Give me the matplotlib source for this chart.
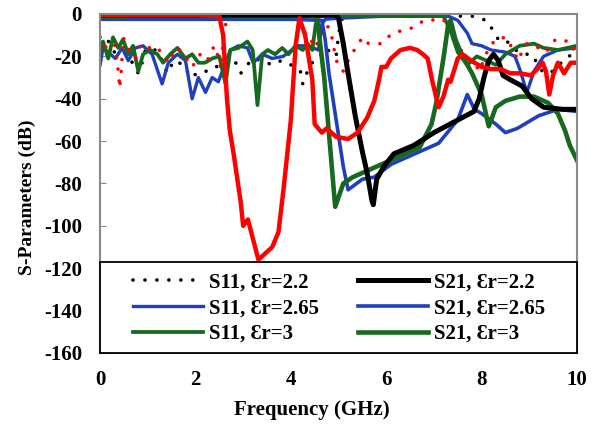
import numpy as np
import matplotlib.pyplot as plt
from matplotlib.patches import Rectangle

plt.rcParams['font.family'] = ['Liberation Serif', 'DejaVu Serif']
plt.rcParams['font.weight'] = 'bold'
plt.rcParams['axes.unicode_minus'] = False

# S11, er=2.2 (black dotted)
s11_22_f = [0.0, 0.15, 0.3, 0.45, 0.6, 0.8, 0.88, 0.95, 1.1, 1.25, 1.4, 1.55, 1.75, 1.9, 2.1, 2.3, 2.5,
            2.8, 2.95, 3.05, 3.2, 3.4, 3.6, 3.8, 4.0, 4.2, 4.25, 4.4, 4.6, 4.75, 4.85, 4.95, 5.0, 5.05,
            5.15, 6.0, 7.0, 7.6, 7.8, 8.1, 8.25, 8.35, 8.5, 8.65, 8.85, 9.05, 9.3, 9.5, 9.8, 10.0]
s11_22_db = [-15, -12, -18, -17, -20, -28, -23, -17, -16, -19, -28, -22, -24, -30, -27, -27, -24,
             -21, -28, -25, -21, -22, -24, -22, -24, -27, -33, -24, -20, -16, -19, -20, -10, -3,
             -1, -1, -1, -1, -1, -3, -8, -12, -12, -16, -19, -19, -28, -27, -20, -19]

# S21, er=2.2 (black solid)
s21_22_f = [0.0, 1.0, 2.0, 3.0, 4.0, 4.95, 5.0, 5.1, 5.2, 5.35, 5.5, 5.6, 5.7, 5.73, 5.8, 5.95, 6.16,
            6.58, 7.0, 7.42, 7.84, 7.95, 8.05, 8.15, 8.25, 8.35, 8.45, 8.6, 8.85, 9.05, 9.3, 9.7, 10.0]
s21_22_db = [-0.5, -0.5, -0.5, -0.5, -0.5, -0.5, -2, -14, -28, -48, -65, -75, -88, -90, -78, -72, -66,
             -62, -56, -51, -46, -40, -30, -22, -19, -22, -29, -31, -34, -40, -44, -45, -45]

# S11, er=2.65 (blue)
s11_265_f = [0.0, 0.06, 0.32, 0.46, 0.59, 0.74, 0.9, 1.09, 1.3, 1.43, 1.62, 1.79, 1.93, 2.06, 2.21,
             2.35, 2.48, 2.73, 2.9, 3.09, 3.21, 3.4, 3.61, 3.84, 4.14, 4.35, 4.58, 4.65, 4.72, 5.0,
             6.0, 7.3, 7.5, 7.7, 7.8, 8.0, 8.2, 8.5, 8.7, 8.8, 8.95, 9.1, 9.3, 9.6, 10.0]
s11_265_db = [-24, -16, -21, -16, -22, -16, -15, -19, -33, -23, -19, -22, -40, -30, -37,
              -30, -32, -17, -15, -16, -23, -19, -21, -20, -15, -15, -17, -5, -2.5, -2,
              -1, -1, -3, -9, -14, -15, -17, -18, -20, -26, -37, -27, -20, -17, -16]

# S21, er=2.65 (blue)
s21_265_f = [0.0, 1.0, 2.0, 3.0, 4.0, 4.65, 4.72, 4.8, 4.95, 5.1, 5.2, 5.5, 5.75, 6.1, 6.6, 7.1,
             7.5, 7.7, 7.85, 8.0, 8.3, 8.5, 8.75, 9.2, 9.6, 10.0]
s21_265_db = [-2.5, -2.5, -2.5, -2.5, -2.5, -3, -12, -28, -50, -72, -83, -78, -77, -71, -66, -61,
              -50, -38, -45, -47, -52, -56, -54, -48, -45, -46]

# S11, er=3 (green)
s11_3_f = [0.0, 0.06, 0.17, 0.27, 0.38, 0.48, 0.59, 0.69, 0.8, 0.9, 1.05, 1.2, 1.32, 1.47, 1.62,
           1.79, 1.93, 2.06, 2.2, 2.35, 2.5, 2.57, 2.63, 2.73, 2.9, 3.09, 3.2, 3.3, 3.4, 3.52,
           3.67, 3.82, 3.95, 4.1, 4.25, 4.35, 4.45, 4.52, 4.58, 5.5, 6.5, 7.2, 7.35, 7.5, 7.7,
           7.9, 8.1, 8.3, 8.5, 8.8, 9.1, 9.3, 9.6, 10.0]
s11_3_db = [-18, -13, -21, -11, -16, -12, -19, -15, -27, -19, -17, -19, -23, -19, -16,
            -21, -19, -23, -23, -21, -20, -27, -33, -17, -16, -13, -17, -43, -19, -17,
            -19, -16, -19, -15, -17, -14, -17, -5, -1, -1, -1, -1, -8, -18, -24,
            -20, -22, -24, -19, -15, -14, -16, -17, -15]

# S21, er=3 (green)
s21_3_f = [0.0, 0.3, 0.6, 1.5, 2.5, 3.5, 4.5, 4.55, 4.7, 4.93, 5.1, 5.3, 5.6, 6.1, 6.7, 6.95, 7.05,
           7.15, 7.22, 7.3, 7.35, 7.45, 7.6, 7.8, 8.0, 8.15, 8.3, 8.5, 8.8, 9.1, 9.4, 9.6, 9.75,
           9.85, 10.0]
s21_3_db = [-1, -2, -1, -1, -1, -1, -1, -2, -30, -91, -80, -77, -74, -69, -63, -52, -42,
            -28, -18, -5, -3, -12, -20, -28, -38, -53, -44, -41, -39, -39, -42, -47, -55,
            -62, -69]

# unlabelled red curves
red_s11_f = [0.0, 0.06, 0.17, 0.25, 0.3, 0.36, 0.39, 0.41, 0.45, 0.48, 0.63, 0.74, 0.85, 0.95, 1.1,
             1.3, 1.43, 1.62, 1.75, 1.93, 2.1, 2.25, 2.32, 2.4, 2.5, 2.53, 2.6, 2.7, 3.5, 4.1, 4.2,
             4.3, 4.4, 4.5, 4.6, 4.75, 4.83, 4.87, 4.9, 4.98, 5.1, 5.15, 5.2, 5.3, 5.4, 5.5, 5.63,
             5.78, 5.88, 6.03, 6.15, 6.3, 6.5, 6.8, 6.95, 7.1, 7.3, 7.4, 7.45, 7.5, 7.7, 7.85,
             7.95, 8.15, 8.3, 8.5, 8.7, 8.75, 8.95, 9.2, 9.35, 9.55, 9.85, 10.0]
red_s11_db = [-11, -15, -16, -15, -14, -23, -29, -35, -25, -11, -18, -21, -15, -17, -15,
              -18, -23, -16, -19, -25, -19, -22, -18, -15, -22, -26, -7, -1, -1, -1, -2,
              -9, -11, -16, -12, -5, -8, -12, -16, -24, -27, -26, -22, -18, -15, -11, -14,
              -14, -14, -11, -9, -8, -7, -3, -3, -2, -4, -8, -11, -15, -21, -23,
              -27, -16, -12, -11, -18, -22, -14, -16, -18, -12, -13, -20]

red_s21_f = [0.0, 1.0, 2.0, 2.5, 2.58, 2.66, 2.72, 2.8, 2.95, 3.0, 3.1, 3.32, 3.61, 3.74, 3.85, 4.0,
             4.1, 4.18, 4.3, 4.45, 4.5, 4.65, 4.75, 4.95, 5.2, 5.4, 5.6, 5.75, 5.85, 5.9, 6.0, 6.1,
             6.3, 6.5, 6.65, 6.77, 6.87, 6.97, 7.1, 7.2, 7.3, 7.35, 7.5, 7.6, 7.78, 8.0, 8.2, 8.4,
             8.6, 8.82, 9.03, 9.17, 9.28, 9.35, 9.42, 9.5, 9.6, 9.73, 9.87, 9.95]
red_s21_db = [-0.5, -0.5, -0.5, -1, -10, -40, -55, -66, -89, -100, -97, -116, -110, -103, -82, -50,
              -15, -2, -10, -31, -52, -56, -54, -58, -59, -56, -49, -41, -31, -25, -25, -21,
              -17, -16, -17, -19, -21, -32, -44, -39, -31, -32, -21, -19, -22, -25, -26, -26,
              -28, -28, -29, -26, -23, -27, -38, -29, -23, -28, -23, -23]

blue = '#1f3fbf'
green = '#17691f'

fig = plt.figure(figsize=(5.96, 4.24), dpi=100)
ax = fig.add_axes([0.168, 0.1675, 0.8, 0.7995])

dots = dict(linestyle=(0, (0.01, 3.3)), dash_capstyle='round', linewidth=2.6)
h1, = ax.plot(s11_22_f, s11_22_db, color='black', label='S11, Ɛr=2.2', **dots)
h3, = ax.plot(s11_265_f, s11_265_db, color=blue, lw=2.4, label='S11, Ɛr=2.65')
h5, = ax.plot(s11_3_f, s11_3_db, color=green, lw=2.7, label='S11, Ɛr=3')
ax.plot(red_s11_f, red_s11_db, color='red', **dots)
h4, = ax.plot(s21_265_f, s21_265_db, color=blue, lw=2.6, label='S21, Ɛr=2.65')
h6, = ax.plot(s21_3_f, s21_3_db, color=green, lw=3.3, label='S21, Ɛr=3')
h2, = ax.plot(s21_22_f, s21_22_db, color='black', lw=3.6, label='S21, Ɛr=2.2')
ax.plot(red_s21_f, red_s21_db, color='red', lw=3.2)

ax.set_xlim(0, 10)
ax.set_ylim(-160, 0)
ax.set_xticks(np.arange(0, 11, 2))
ax.set_yticks(np.arange(-160, 1, 20))
ax.tick_params(axis='y', direction='in', length=4, color='#888888', labelsize=15, pad=13)
ax.tick_params(axis='x', length=0, labelsize=15, pad=12)
for lab in ax.get_xticklabels() + ax.get_yticklabels():
    lab.set_fontweight('bold')
for sp in ax.spines.values():
    sp.set_color('#8a8a8a')
    sp.set_linewidth(1.5)

ax.set_xlabel('Frequency (GHz)', fontsize=15, fontweight='bold')
ax.set_ylabel('S-Parameters (dB)', fontsize=14, fontweight='bold')
ax.xaxis.set_label_coords(0.443, -0.138)
ax.yaxis.set_label_coords(-0.135, 0.46)

# legend box spanning the bottom of the axes
ax.add_patch(Rectangle((0, 0), 1, 0.268, transform=ax.transAxes, facecolor='white',
                       edgecolor='black', linewidth=1.3, zorder=4.5, clip_on=False))
leg = ax.legend(handles=[h1, h3, h5, h2, h4, h6], ncol=2, loc='center left',
                bbox_to_anchor=(0.069, 0.132), borderaxespad=0, borderpad=0,
                frameon=False, handlelength=3.37, handletextpad=0.3, columnspacing=1.85,
                labelspacing=0.28, prop={'size': 15, 'weight': 'bold'})

fig.savefig('out.png', dpi=100)
